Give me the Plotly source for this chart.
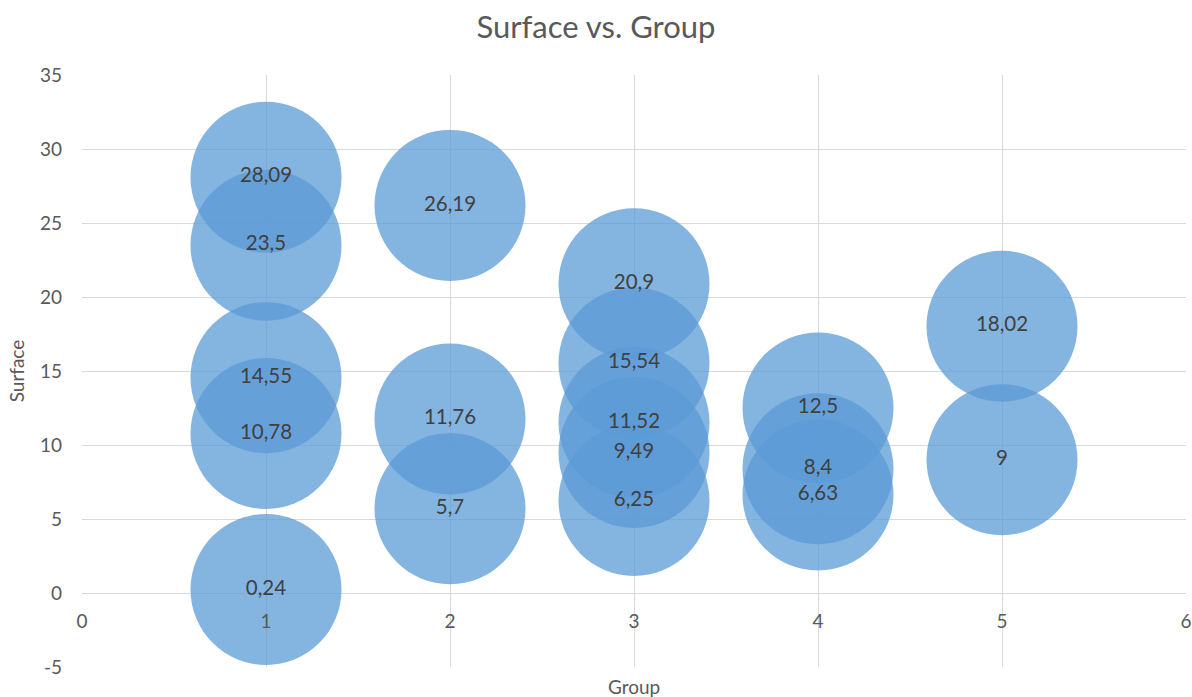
import plotly.graph_objects as go

groups = [1, 1, 1, 1, 1, 2, 2, 2, 3, 3, 3, 3, 3, 4, 4, 4, 5, 5]
surface = [28.09, 23.5, 14.55, 10.78, 0.24,
           26.19, 11.76, 5.7,
           20.9, 15.54, 11.52, 9.49, 6.25,
           12.5, 8.4, 6.63,
           18.02, 9]
labels = [f"{v:g}".replace(".", ",") for v in surface]

x_ticks = [0, 1, 2, 3, 4, 5, 6]
y_ticks = [-5, 0, 5, 10, 15, 20, 25, 30, 35]
y_tick_labels = ["-5", "0", "5", "10", "15", "20", "25", "30", "35"]

FONT = "Lato"

fig = go.Figure()
fig.add_trace(go.Scatter(
    x=groups, y=surface, mode="markers+text",
    text=labels, textposition="middle center",
    textfont=dict(family=FONT, size=20.5, color="#404040"),
    marker=dict(size=151, sizemode="diameter", color="rgba(91,155,213,0.75)",
                line=dict(width=0)),
    hoverinfo="x+y", showlegend=False, cliponaxis=False,
))

fig.update_layout(
    width=1192, height=697,
    margin=dict(l=82, r=6, t=75, b=30),
    paper_bgcolor="white", plot_bgcolor="white",
    title=dict(text="Surface vs. Group", x=0.5, xanchor="center", y=0.961, yanchor="middle",
               font=dict(family=FONT, size=31, color="#595959")),
    xaxis=dict(range=[0, 6], tickvals=x_ticks, showgrid=True, gridcolor="#d9d9d9",
               gridwidth=1, zeroline=False, showline=False, ticks="",
               anchor="free", position=0.125, ticklabelstandoff=15, automargin=False,
               tickfont=dict(family=FONT, size=19, color="#595959")),
    yaxis=dict(range=[-5, 35], tickvals=y_ticks, ticktext=y_tick_labels,
               showgrid=True, gridcolor="#d9d9d9",
               gridwidth=1, zeroline=False, showline=False, ticks="",
               ticklabelstandoff=19, automargin=False,
               tickfont=dict(family=FONT, size=19, color="#595959"),
               title=dict(text="Surface", standoff=10,
                          font=dict(family=FONT, size=19, color="#595959"))),
    annotations=[dict(text="Group", xref="paper", yref="paper", x=0.5, y=0,
                      xanchor="center", yanchor="middle", yshift=-19, showarrow=False,
                      font=dict(family=FONT, size=19, color="#595959"))],
)

fig.write_html("out.html", config={"displayModeBar": False},
               post_script="document.body.style.margin='0';")
